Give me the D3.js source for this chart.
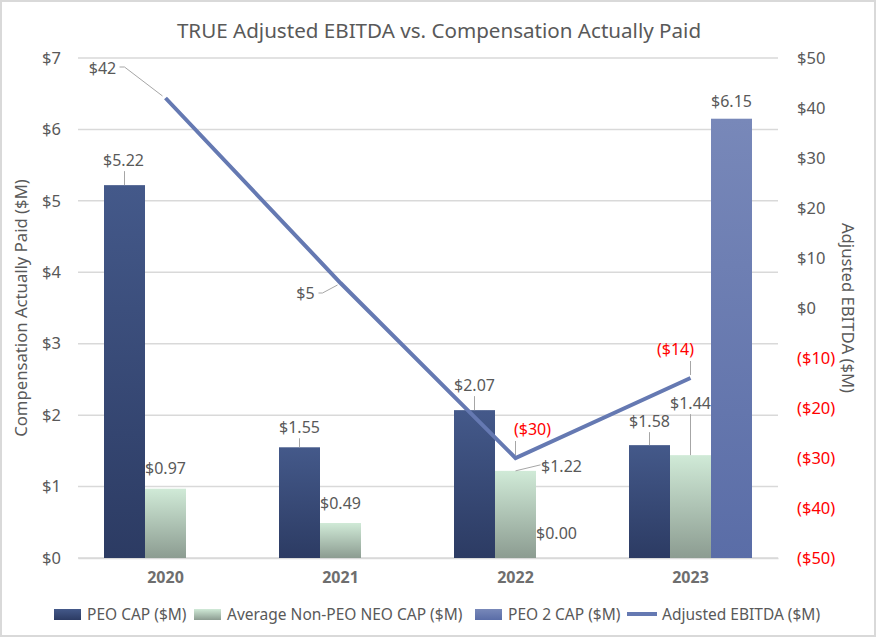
<!DOCTYPE html>
<html>
<head>
<meta charset="utf-8">
<script src="https://cdn.jsdelivr.net/npm/d3@7"></script>
<style>
  body { margin: 0; background: #fff; }
  svg { display: block; font-family: "Noto Sans", sans-serif; }
</style>
</head>
<body>
<script>
// chart values
const years = ['2020', '2021', '2022', '2023'];
const peoCap = [5.22, 1.55, 2.07, 1.58];
const neoCap = [0.97, 0.49, 1.22, 1.44];
const peo2Cap = [null, null, 0, 6.15];
const ebitda = [42, 5, -30, -14];
const leftTicks = [0, 1, 2, 3, 4, 5, 6, 7];
const rightTicks = [-50, -40, -30, -20, -10, 0, 10, 20, 30, 40, 50];

const W = 877, H = 638;
const margin = {top: 58, bottom: 80, left: 78, right: 99};

const svg = d3.select('body').append('svg')
  .attr('width', W)
  .attr('height', H);

// gradients for bars
const defs = svg.append('defs');
function grad(id, top, bottom) {
  const g = defs.append('linearGradient').attr('id', id)
    .attr('x1', 0).attr('y1', 0).attr('x2', 0).attr('y2', 1);
  g.append('stop').attr('offset', '0%').attr('stop-color', top);
  g.append('stop').attr('offset', '100%').attr('stop-color', bottom);
}
grad('gPeo', '#44598a', '#2c3b63');
grad('gNeo', '#d0ead7', '#8c9c91');
grad('gPeo2', '#7888b9', '#5a6da7');

// border
svg.append('rect')
  .attr('x', 1).attr('y', 1).attr('width', W - 3).attr('height', H - 3)
  .attr('fill', '#fff').attr('stroke', '#d9d9d9').attr('stroke-width', 2);

const x = d3.scaleBand().domain(years).range([margin.left, W - margin.right]);
const yL = d3.scaleLinear().domain([0, 7]).range([H - margin.bottom, margin.top]);
const yR = d3.scaleLinear().domain([-50, 50]).range([H - margin.bottom, margin.top]);

const barW = 41;
const groupOff = (x.bandwidth() - barW * 3) / 2;

// gridlines
svg.append('g')
  .selectAll('line')
  .data(leftTicks)
  .join('line')
  .attr('x1', margin.left).attr('x2', W - margin.right)
  .attr('y1', d => yL(d)).attr('y2', d => yL(d))
  .attr('stroke', '#d9d9d9').attr('stroke-width', 1.5);

// left axis
const fmtL = d => '$' + d;
const axL = svg.append('g')
  .attr('transform', `translate(${margin.left},0)`)
  .call(d3.axisLeft(yL).tickValues(leftTicks).tickFormat(fmtL).tickSize(0).tickPadding(17));
axL.select('.domain').remove();
axL.selectAll('text').attr('fill', '#595959').style('font-size', '16.5px')
  .style('font-family', '"Noto Sans", sans-serif');

// right axis
const fmtR = d => d < 0 ? '($' + Math.abs(d) + ')' : '$' + d;
const axR = svg.append('g')
  .attr('transform', `translate(${W - margin.right},0)`)
  .call(d3.axisRight(yR).tickValues(rightTicks).tickFormat(fmtR).tickSize(0).tickPadding(19));
axR.select('.domain').remove();
axR.selectAll('text').attr('fill', d => d < 0 ? '#ff0000' : '#595959').style('font-size', '16.5px')
  .style('font-family', '"Noto Sans", sans-serif');

// bottom axis
const axB = svg.append('g')
  .attr('transform', `translate(0,${H - margin.bottom})`)
  .call(d3.axisBottom(x).tickSize(0).tickPadding(14));
axB.select('.domain').attr('stroke', '#d9d9d9').attr('stroke-width', 1.5);
axB.selectAll('text').attr('fill', '#6e6e6e').style('font-size', '16px')
  .style('font-weight', 'bold').style('font-family', '"Noto Sans", sans-serif');

// bars
const series = [
  {key: 'peo', vals: peoCap, fill: 'url(#gPeo)'},
  {key: 'neo', vals: neoCap, fill: 'url(#gNeo)'},
  {key: 'peo2', vals: peo2Cap, fill: 'url(#gPeo2)'}
];
series.forEach((s, si) => {
  svg.append('g').selectAll('rect')
    .data(years.map((yr, i) => ({yr, v: s.vals[i]})).filter(d => d.v))
    .join('rect')
    .attr('x', d => x(d.yr) + groupOff + si * barW)
    .attr('width', barW)
    .attr('y', d => yL(d.v))
    .attr('height', d => yL(0) - yL(d.v))
    .attr('fill', s.fill);
});

// EBITDA line
const cx = yr => x(yr) + x.bandwidth() / 2;
svg.append('path')
  .datum(years.map((yr, i) => ({yr, v: ebitda[i]})))
  .attr('fill', 'none')
  .attr('stroke', '#6579b2')
  .attr('stroke-width', 4)
  .attr('d', d3.line().x(d => cx(d.yr)).y(d => yR(d.v)));

// data labels: offsets from the mark anchor
const fmt2 = v => '$' + v.toFixed(2);
const labels = [
  {s: 0, i: 0, dx: -1, dy: -25, lead: true},
  {s: 1, i: 0, dx: 0, dy: -21},
  {s: 0, i: 1, dx: 0, dy: -20, lead: true},
  {s: 1, i: 1, dx: 0, dy: -20},
  {s: 0, i: 2, dx: 0, dy: -25, lead: true},
  {s: 1, i: 2, dx: 46, dy: -5, leadTo: [25, -6]},
  {s: 2, i: 2, dx: 0, dy: -25},
  {s: 0, i: 3, dx: 0, dy: -24, lead: true},
  {s: 1, i: 3, dx: 0, dy: -52, lead: true},
  {s: 2, i: 3, dx: 0, dy: -18}
];
const lblG = svg.append('g');
labels.forEach(l => {
  const v = series[l.s].vals[l.i];
  const ax = x(years[l.i]) + groupOff + l.s * barW + barW / 2;
  const ay = yL(v);
  if (l.lead) {
    lblG.append('line').attr('x1', ax).attr('x2', ax)
      .attr('y1', ay + l.dy + 11).attr('y2', ay)
      .attr('stroke', '#a6a6a6').attr('stroke-width', 1);
  }
  if (l.leadTo) {
    lblG.append('line').attr('x1', ax).attr('y1', ay)
      .attr('x2', ax + l.leadTo[0]).attr('y2', ay + l.leadTo[1])
      .attr('stroke', '#a6a6a6').attr('stroke-width', 1);
  }
  lblG.append('text')
    .attr('x', ax + l.dx).attr('y', ay + l.dy)
    .attr('text-anchor', 'middle').attr('dominant-baseline', 'central')
    .attr('fill', '#595959').style('font-size', '16px')
    .text(fmt2(v));
});

// EBITDA labels with leader paths (offsets in px from the point)
const eLabels = [
  {i: 0, dx: -63, dy: -30, path: [[-46, -31], [-41, -31], [-3, -2]]},
  {i: 1, dx: -35, dy: 10, path: [[-22, 10], [-18, 10], [-3, 2]]},
  {i: 2, dx: 17, dy: -29, path: [[0, -17], [0, -3]]},
  {i: 3, dx: -15, dy: -29, path: [[0, -17], [0, -3]]}
];
eLabels.forEach(l => {
  const v = ebitda[l.i];
  const px = cx(years[l.i]), py = yR(v);
  lblG.append('path')
    .attr('d', d3.line()(l.path.map(p => [px + p[0], py + p[1]])))
    .attr('fill', 'none').attr('stroke', '#a6a6a6').attr('stroke-width', 1);
  lblG.append('text')
    .attr('x', px + l.dx).attr('y', py + l.dy)
    .attr('text-anchor', 'middle').attr('dominant-baseline', 'central')
    .attr('fill', v < 0 ? '#ff0000' : '#595959').style('font-size', '16px')
    .text(fmtR(v));
});

// title
svg.append('text')
  .attr('x', 439).attr('y', 30)
  .attr('text-anchor', 'middle').attr('dominant-baseline', 'central')
  .attr('fill', '#595959').style('font-size', '20.6px')
  .text('TRUE Adjusted EBITDA vs. Compensation Actually Paid');

// axis titles
svg.append('text')
  .attr('transform', `translate(20,${(yL(0) + yL(7)) / 2}) rotate(-90)`)
  .attr('text-anchor', 'middle').attr('dominant-baseline', 'central')
  .attr('fill', '#595959').style('font-size', '16.7px')
  .text('Compensation Actually Paid ($M)');
svg.append('text')
  .attr('transform', `translate(848,${(yL(0) + yL(7)) / 2}) rotate(90)`)
  .attr('text-anchor', 'middle').attr('dominant-baseline', 'central')
  .attr('fill', '#595959').style('font-size', '16.7px')
  .text('Adjusted EBITDA ($M)');

// legend
const legendItems = [
  {name: 'PEO CAP ($M)', fill: 'url(#gPeo)', x: 54},
  {name: 'Average Non-PEO NEO CAP ($M)', fill: 'url(#gNeo)', x: 194},
  {name: 'PEO 2 CAP ($M)', fill: 'url(#gPeo2)', x: 475},
  {name: 'Adjusted EBITDA ($M)', line: true, x: 627}
];
const lg = svg.append('g');
legendItems.forEach(d => {
  if (d.line) {
    lg.append('line').attr('x1', d.x).attr('x2', d.x + 30)
      .attr('y1', 614).attr('y2', 614)
      .attr('stroke', '#6579b2').attr('stroke-width', 4);
  } else {
    lg.append('rect').attr('x', d.x).attr('y', 609)
      .attr('width', 27).attr('height', 11).attr('fill', d.fill);
  }
  lg.append('text')
    .attr('x', d.x + (d.line ? 35 : 33)).attr('y', 614)
    .attr('dominant-baseline', 'central')
    .attr('fill', '#595959').style('font-size', '15.5px')
    .text(d.name);
});
</script>
</body>
</html>
